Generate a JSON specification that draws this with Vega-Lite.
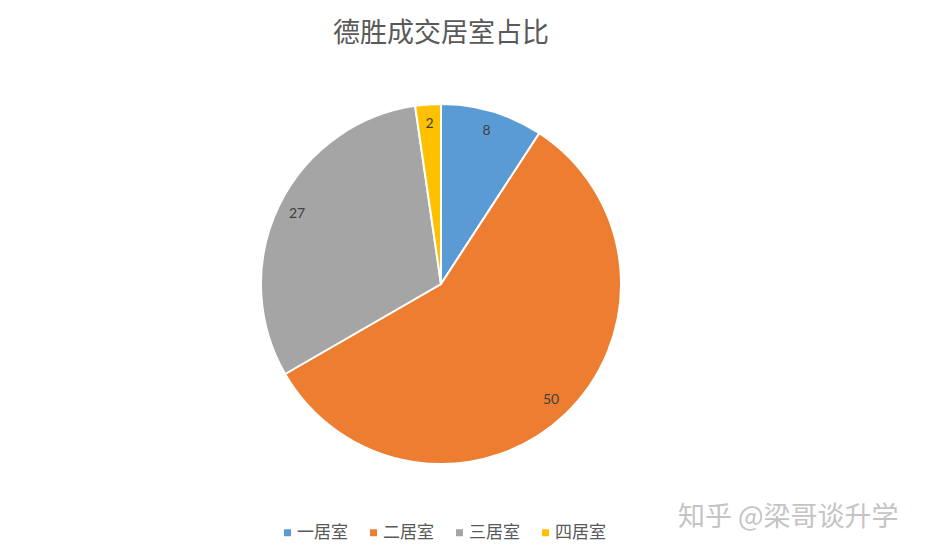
{
  "$schema": "https://vega.github.io/schema/vega-lite/v6.json",
  "width": 882,
  "height": 540,
  "autosize": "none",
  "padding": {"left": 0, "right": 44, "top": 14, "bottom": 1},
  "background": "white",
  "title": {
    "text": "德胜成交居室占比",
    "font": "Noto Sans CJK SC",
    "fontSize": 27,
    "fontWeight": "normal",
    "color": "#595959",
    "anchor": "middle",
    "baseline": "middle",
    "offset": -28,
    "dy": 19
  },
  "data": {
    "values": [
      {"room": "一居室", "value": 8, "idx": 1},
      {"room": "二居室", "value": 50, "idx": 2},
      {"room": "三居室", "value": 27, "idx": 3},
      {"room": "四居室", "value": 2, "idx": 4}
    ]
  },
  "encoding": {
    "theta": {"field": "value", "type": "quantitative", "stack": true},
    "order": {"field": "idx", "type": "quantitative"}
  },
  "layer": [
    {
      "mark": {"type": "arc", "outerRadius": 180, "stroke": "white", "strokeWidth": 2},
      "encoding": {
        "color": {
          "field": "room",
          "type": "nominal",
          "scale": {
            "domain": ["一居室", "二居室", "三居室", "四居室"],
            "range": ["#5B9BD5", "#ED7D31", "#A5A5A5", "#FFC000"]
          },
          "legend": {
            "title": "知乎 @梁哥谈升学",
            "orient": "none",
            "legendX": 279,
            "legendY": 510,
            "direction": "horizontal",
            "symbolType": "square",
            "symbolSize": 49,
            "symbolStrokeWidth": 0,
            "labelFont": "Noto Sans CJK SC",
            "labelFontSize": 17,
            "labelColor": "#595959",
            "labelOffset": 1,
            "columnPadding": 17,
            "padding": 0,
            "titleOrient": "right",
            "titlePadding": 72,
            "titleFont": "Noto Sans CJK SC",
            "titleFontSize": 27,
            "titleFontWeight": "normal",
            "titleColor": "#c4c4c4",
            "titleBaseline": "bottom",
            "titleLimit": 400
          }
        }
      }
    },
    {
      "mark": {"type": "text", "radius": 160, "font": "Lato", "fontSize": 14, "color": "#404040"},
      "encoding": {
        "text": {"field": "value", "type": "quantitative"}
      }
    }
  ]
}
